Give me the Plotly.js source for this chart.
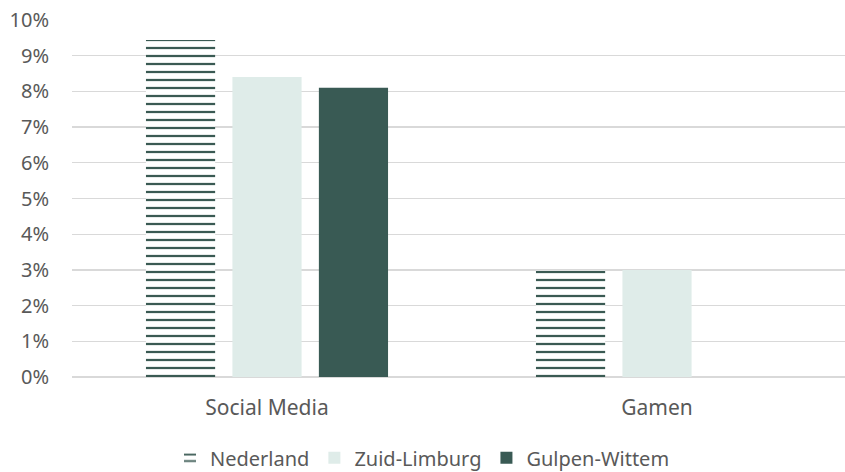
<!DOCTYPE html>
<html>
<head>
<meta charset="utf-8">
<script src="https://cdn.plot.ly/plotly-3.0.1.min.js"></script>
<style>html,body{margin:0;padding:0;background:#fff;}#chart{width:845px;height:472px;}</style>
</head>
<body>
<div id="chart"></div>
<script>
const categories = ["Social Media", "Gamen"];
const nederland = [0.0944, 0.0298];
const zuidLimburg = [0.084, 0.030];
const gulpenWittem = [0.081, null];
const yTickVals = [0, 0.01, 0.02, 0.03, 0.04, 0.05, 0.06, 0.07, 0.08, 0.09, 0.10];

const font = {family: "Noto Sans", size: 20, color: "#595959"};
const xfont = {family: "Noto Sans", size: 21, color: "#595959"};

const traces = [
  {type: "bar", name: "Nederland", x: categories, y: nederland,
   marker: {color: "#3a5a53", line: {width: 0},
     pattern: {shape: "-", size: 8, solidity: 0.28, fgcolor: "#3a5a53", bgcolor: "#ffffff", fillmode: "replace"}}},
  {type: "bar", name: "Zuid-Limburg", x: categories, y: zuidLimburg,
   marker: {color: "#dfece9", line: {width: 0}}},
  {type: "bar", name: "Gulpen-Wittem", x: categories, y: gulpenWittem,
   marker: {color: "#395a54", line: {width: 0}}}
];

const layout = {
  width: 845, height: 472,
  margin: {l: 72, r: 0, t: 20, b: 95},
  paper_bgcolor: "#ffffff", plot_bgcolor: "#ffffff",
  font: font,
  barmode: "group", bargap: 0.335, bargroupgap: 0.2,
  showlegend: true,
  hovermode: false,
  xaxis: {type: "category", range: [-0.5, 1.482], showgrid: false, showline: false, zeroline: false,
    ticks: "", ticklabelstandoff: 16, tickfont: xfont, fixedrange: true},
  yaxis: {range: [0, 0.1], tickvals: yTickVals, tickformat: ".0%", showgrid: true,
    gridcolor: "#d9d9d9", gridwidth: 1.3, zeroline: true, zerolinecolor: "#d9d9d9", zerolinewidth: 1.3,
    showline: false, ticks: "", ticklabelstandoff: 22, tickfont: font, fixedrange: true},
  legend: {orientation: "h", xref: "container", yref: "container", x: 0.5, xanchor: "center",
    y: 0.03, yanchor: "middle", font: font, traceorder: "normal", itemwidth: 30}
};

Plotly.newPlot("chart", traces, layout, {displayModeBar: false, staticPlot: true});
</script>
</body>
</html>
